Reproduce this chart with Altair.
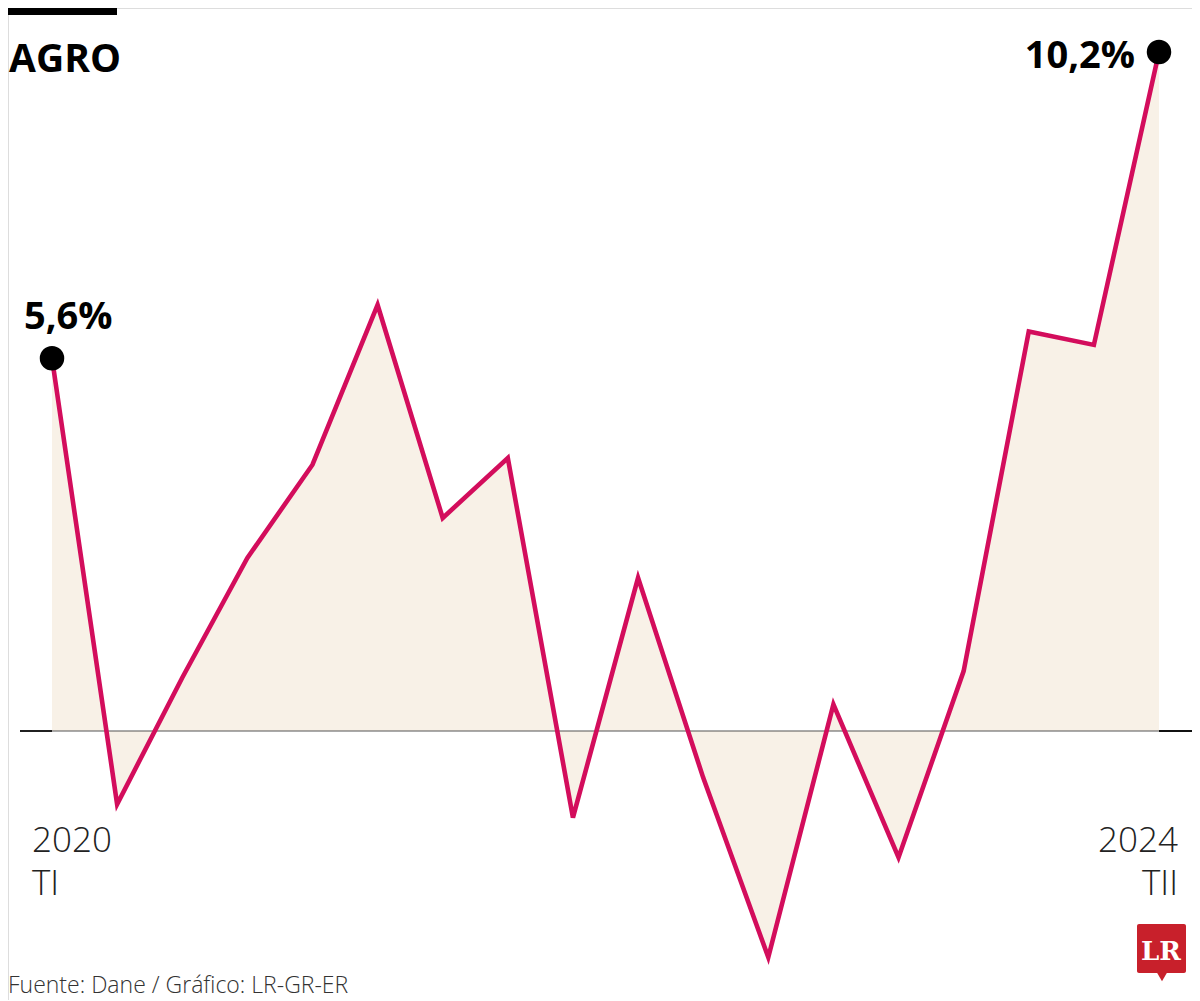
import altair as alt
import pandas as pd

# Data
quarters = ["2020 TI", "2020 TII", "2020 TIII", "2020 TIV",
            "2021 TI", "2021 TII", "2021 TIII", "2021 TIV",
            "2022 TI", "2022 TII", "2022 TIII", "2022 TIV",
            "2023 TI", "2023 TII", "2023 TIII", "2023 TIV",
            "2024 TI", "2024 TII"]
values = [5.6, -1.1, 0.8, 2.6, 4.0, 6.4, 3.2, 4.1, -1.3, 2.3,
          -0.7, -3.4, 0.4, -1.9, 0.9, 6.0, 5.8, 10.2]
point_labels = ["5,6%", "", "", "", "", "", "", "", "", "",
                "", "", "", "", "", "", "", "10,2%"]
title_text = ["AGRO"]
source_text = ["Fuente: Dane / Gráfico: LR-GR-ER"]
start_label = ["2020", "TI"]
end_label = ["2024", "TII"]
logo_text = ["LR"]

df = pd.DataFrame({
    "idx": list(range(len(values))),
    "quarter": quarters,
    "value": values,
    "label": point_labels,
})

LINE = "#d30d5c"
FILL = "#f8f1e7"
FONT = "Open Sans"

xs = alt.Scale(domain=[0, len(values) - 1], range=[44, 1151])
ys = alt.Scale(domain=[0, 10.2], range=[723, 44])

base = alt.Chart(df)
X = alt.X("idx:Q", scale=xs, axis=None)
Y = alt.Y("value:Q", scale=ys, axis=None)

area = base.mark_area(color=FILL, opacity=1).encode(
    x=X, y=alt.Y("value:Q", scale=ys, axis=None, stack=None), y2=alt.datum(0)
)

zero = alt.Chart(pd.DataFrame({"z": [0]})).mark_rule(color="#555555", strokeWidth=1.2).encode(
    y=alt.Y("z:Q", scale=ys, axis=None), x=alt.value(12), x2=alt.value(1184)
)
zero_l = alt.Chart(pd.DataFrame({"z": [0]})).mark_rule(color="#111111", strokeWidth=1.8).encode(
    y=alt.Y("z:Q", scale=ys, axis=None), x=alt.value(12), x2=alt.value(44)
)
zero_r = alt.Chart(pd.DataFrame({"z": [0]})).mark_rule(color="#111111", strokeWidth=1.8).encode(
    y=alt.Y("z:Q", scale=ys, axis=None), x=alt.value(1151), x2=alt.value(1184)
)

line = base.mark_line(color=LINE, strokeWidth=4.6, strokeJoin="miter").encode(x=X, y=Y)

ends = base.transform_filter("datum.label != ''")
dots = ends.mark_point(filled=True, color="black", size=600, opacity=1, shape="circle").encode(x=X, y=Y)

lab_first = base.transform_filter("datum.idx == 0").mark_text(
    font=FONT, fontWeight="bold", fontSize=38, align="left", baseline="alphabetic",
    dx=-28, dy=-29, color="black"
).encode(x=X, y=Y, text="label:N")
lab_last = base.transform_filter("datum.idx == 17").mark_text(
    font=FONT, fontWeight="bold", fontSize=38, align="right", baseline="alphabetic",
    dx=-24, dy=16, color="black"
).encode(x=X, y=Y, text="label:N")

bar = alt.Chart(pd.DataFrame({"a": [1]})).mark_rect(color="black").encode(
    x=alt.value(0), x2=alt.value(109), y=alt.value(0), y2=alt.value(7)
)
title = alt.Chart(pd.DataFrame({"t": title_text})).mark_text(
    font=FONT, fontWeight="bold", fontSize=39, align="left", baseline="alphabetic", color="black"
).encode(text="t:N", x=alt.value(1), y=alt.value(64))

def label_block(texts, xpos, align):
    d = pd.DataFrame({"t": texts, "ypx": [844, 887]})
    return alt.Chart(d).mark_text(
        font=FONT, fontWeight=300, fontSize=35, align=align, baseline="alphabetic", color="#222222"
    ).encode(text="t:N", x=alt.value(xpos), y=alt.Y("ypx:Q", scale=None, axis=None))

start = label_block(start_label, 24, "left")
end = label_block(end_label, 1170, "right")

source = alt.Chart(pd.DataFrame({"t": source_text})).mark_text(
    font=FONT, fontWeight=300, fontSize=23, align="left", baseline="alphabetic", color="#333333"
).encode(text="t:N", x=alt.value(0), y=alt.value(985))

logo_rect = alt.Chart(pd.DataFrame({"a": [1]})).mark_rect(color="#c8202b", cornerRadius=2).encode(
    x=alt.value(1129), x2=alt.value(1178), y=alt.value(916), y2=alt.value(965)
)
logo_tri = alt.Chart(pd.DataFrame({"a": [1]})).mark_point(
    shape="triangle-down", filled=True, color="#c8202b", size=150, opacity=1
).encode(x=alt.value(1154), y=alt.value(968))
logo_txt = alt.Chart(pd.DataFrame({"t": logo_text})).mark_text(
    font="DejaVu Serif", fontWeight="bold", fontSize=26, align="center", baseline="alphabetic", color="white"
).encode(text="t:N", x=alt.value(1153), y=alt.value(952))

chart = alt.layer(
    area, zero, zero_l, zero_r, line, dots, lab_first, lab_last,
    bar, title, start, end, source, logo_rect, logo_tri, logo_txt
).properties(
    width=1184, height=992, padding=0, autosize=alt.AutoSizeParams(type="none")
).configure_view(strokeWidth=0, stroke="transparent", fill="white").configure(background="white")

chart.save("out.html", embed_options={"renderer": "svg", "actions": False})
